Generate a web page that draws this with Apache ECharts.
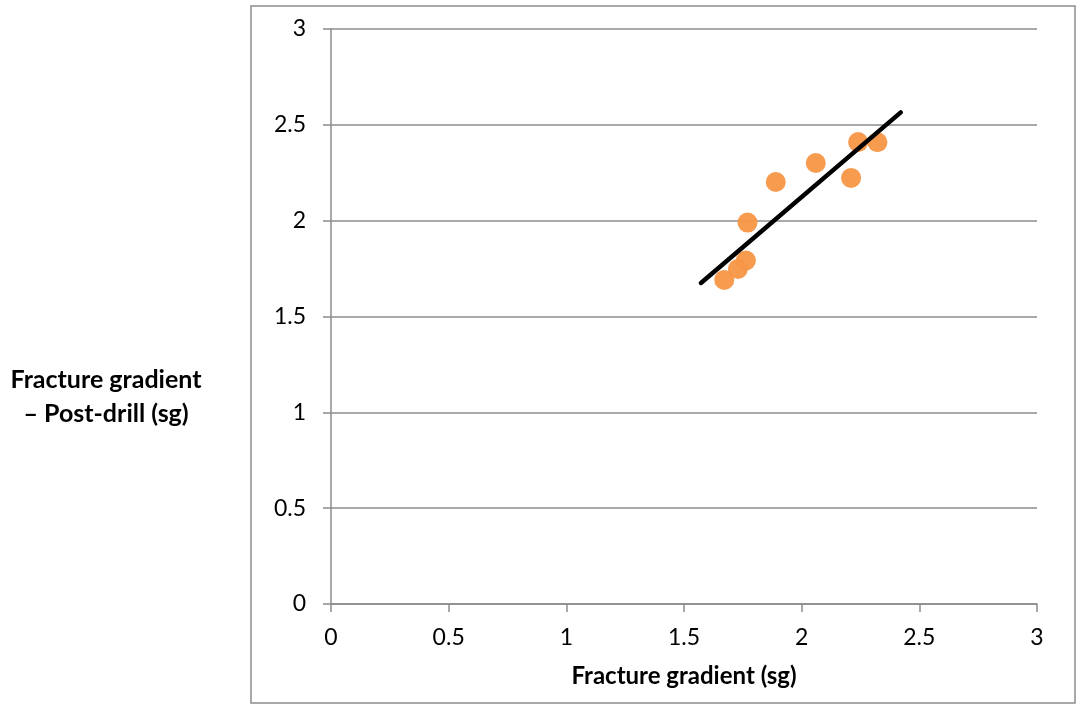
<!DOCTYPE html>
<html>
<head>
<meta charset="utf-8">
<script src="https://cdn.jsdelivr.net/npm/echarts@6/dist/echarts.min.js"></script>
<style>
html,body{margin:0;padding:0;background:#fff;}
#chart{width:1077px;height:704px;}
</style>
</head>
<body>
<div id="chart"></div>
<script>
// Data
const preDrill  = [1.671, 1.729, 1.763, 1.770, 1.890, 2.060, 2.210, 2.240, 2.322];
const postDrill = [1.691, 1.748, 1.792, 1.990, 2.202, 2.301, 2.223, 2.410, 2.409];
const trendX = [1.572, 2.421];
const trendY = [1.675, 2.565];
const xTitle = 'Fracture gradient (sg)';
const yTitle = ['Fracture gradient', '– Post-drill (sg)'];

const font = 'Lato, "Open Sans", sans-serif';
const chart = echarts.init(document.getElementById('chart'), null, {renderer: 'canvas'});

const gridLeft = 331, gridTop = 29, gridRight = 1077 - 1037, gridBottom = 704 - 604;

chart.setOption({
  animation: false,
  backgroundColor: '#fff',
  grid: {left: gridLeft, right: gridRight, top: gridTop, bottom: gridBottom, containLabel: false},
  xAxis: {
    type: 'value', min: 0, max: 3, interval: 0.5,
    axisLine: {show: true, lineStyle: {color: '#8c8c8c', width: 1.5}},
    axisTick: {show: true, length: 8, lineStyle: {color: '#8c8c8c', width: 1.5}},
    axisLabel: {color: '#000', fontFamily: font, fontSize: 23, margin: 22},
    splitLine: {show: false},
    name: xTitle, nameLocation: 'middle', nameGap: 60,
    nameTextStyle: {color: '#000', fontFamily: font, fontSize: 24, fontWeight: 'bold'}
  },
  yAxis: {
    type: 'value', min: 0, max: 3, interval: 0.5,
    axisLine: {show: true, lineStyle: {color: '#8c8c8c', width: 1.5}},
    axisTick: {show: true, length: 8, lineStyle: {color: '#8c8c8c', width: 1.5}},
    axisLabel: {color: '#000', fontFamily: font, fontSize: 23, margin: 25},
    splitLine: {show: true, lineStyle: {color: '#8c8c8c', width: 1.5}}
  },
  graphic: [
    {type: 'rect', shape: {x: 251, y: 6, width: 824, height: 697}, silent: true,
     style: {fill: 'none', stroke: '#8c8c8c', lineWidth: 1.5}, z: -1},
    {type: 'text', x: 106, y: 397, silent: true,
     style: {text: yTitle.join('\n'), fill: '#000', font: 'bold 25px ' + font,
             align: 'center', verticalAlign: 'middle', lineHeight: 34}}
  ],
  series: [
    {type: 'scatter', data: preDrill.map((x, i) => [x, postDrill[i]]),
     symbolSize: 20, itemStyle: {color: '#F79646', opacity: 0.95}, z: 2},
    {type: 'line', data: trendX.map((x, i) => [x, trendY[i]]), showSymbol: false, symbol: 'none',
     lineStyle: {color: '#000', width: 4.5, cap: 'round'}, z: 3}
  ]
});
</script>
</body>
</html>
